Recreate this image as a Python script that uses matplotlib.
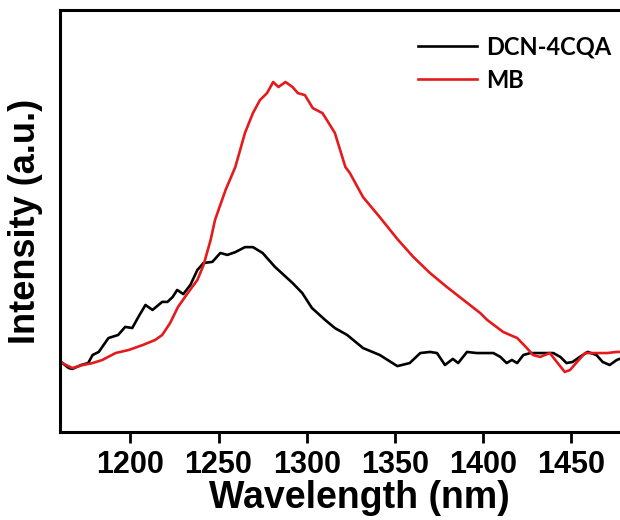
import numpy as np
import matplotlib
matplotlib.use('Agg')
import matplotlib.pyplot as plt

plt.rcParams['font.family'] = ['Liberation Sans', 'DejaVu Sans']

# emission spectra (normalised intensity)
wl_dcn = [1160, 1165, 1167, 1172, 1176, 1178.5, 1182, 1187.5, 1193, 1197, 1201,
          1204.5, 1208.5, 1212.5, 1218, 1221, 1224, 1226.5, 1230, 1234, 1238,
          1241.5, 1246.5, 1251, 1255, 1259.5, 1265, 1269.5, 1275, 1282, 1292,
          1297.5, 1303, 1310.5, 1316, 1323, 1332, 1341.5, 1351.5, 1358.5,
          1364.5, 1370, 1374, 1378.5, 1383, 1386, 1391, 1396.5, 1406, 1410,
          1413.5, 1416.5, 1419.5, 1423, 1427, 1432.5, 1440, 1444, 1447.5,
          1451, 1455, 1459.5, 1464.5, 1468, 1472, 1476, 1478]
int_dcn = [-0.004, -0.029, -0.032, -0.018, -0.011, 0.018, 0.029, 0.079, 0.090,
           0.119, 0.115, 0.155, 0.198, 0.180, 0.209, 0.209, 0.227, 0.252,
           0.237, 0.270, 0.324, 0.349, 0.353, 0.385, 0.378, 0.388, 0.406,
           0.406, 0.385, 0.335, 0.277, 0.241, 0.187, 0.144, 0.115, 0.090,
           0.043, 0.018, -0.022, -0.011, 0.025, 0.029, 0.025, -0.018, 0.004,
           -0.011, 0.029, 0.025, 0.025, 0.011, -0.011, 0.0, -0.011, 0.018,
           0.025, 0.025, 0.025, 0.011, -0.011, -0.007, 0.011, 0.029, 0.018,
           -0.007, -0.018, 0.0, 0.005]

wl_mb = [1160, 1167, 1173, 1178.5, 1184, 1191.5, 1199, 1207, 1214, 1218,
         1222.5, 1227, 1233, 1238, 1241.5, 1245.5, 1248, 1254, 1259.5, 1265,
         1269.5, 1273.5, 1277.5, 1281, 1284, 1288, 1292, 1295, 1299, 1303.5,
         1309, 1311.5, 1316, 1322, 1324.5, 1332, 1341.5, 1351.5, 1360.5,
         1370, 1379.5, 1389, 1398.5, 1402.5, 1411.5, 1419.5, 1425, 1428.5,
         1432.5, 1438, 1442, 1446.5, 1449.5, 1453.5, 1458, 1464.5, 1470.5,
         1476, 1478]
int_mb = [-0.007, -0.029, -0.018, -0.011, 0.0, 0.025, 0.036, 0.054, 0.072,
          0.090, 0.133, 0.191, 0.245, 0.288, 0.342, 0.432, 0.504, 0.612,
          0.694, 0.817, 0.888, 0.935, 0.960, 1.0, 0.982, 1.0, 0.982, 0.960,
          0.953, 0.906, 0.888, 0.863, 0.817, 0.694, 0.673, 0.586, 0.514,
          0.435, 0.371, 0.313, 0.263, 0.216, 0.169, 0.144, 0.101, 0.079,
          0.043, 0.018, 0.011, 0.025, -0.007, -0.043, -0.036, -0.007, 0.025,
          0.025, 0.025, 0.029, 0.029]

xticks = [1200, 1250, 1300, 1350, 1400, 1450]

fig = plt.figure(figsize=(6.2, 5.2), dpi=100)
# axes run past the right edge, the original figure is cropped there
ax = fig.add_axes([60/620, 88/520, 599/620, 422/520])

ax.plot(wl_dcn, int_dcn, color='black', lw=1.9, label='DCN-4CQA')
ax.plot(wl_mb, int_mb, color='#e41a1c', lw=1.9, label='MB')

ax.set_xlim(1160, 1500)
ax.set_ylim(-0.259, 1.259)
ax.set_xticks(xticks)
ax.set_yticks([])
ax.tick_params(axis='x', direction='out', length=8, width=2, pad=5,
               labelsize=22)
for lab in ax.get_xticklabels():
    lab.set_fontweight('bold')
for sp in ax.spines.values():
    sp.set_linewidth(2.2)

ax.set_xlabel('Wavelength (nm)', fontsize=27, fontweight='bold', labelpad=0)
ax.set_ylabel('Intensity (a.u.)', fontsize=26, fontweight='bold', labelpad=12)

leg = ax.legend(loc='upper left', bbox_to_anchor=(418/620, 1 - 35/520),
                bbox_transform=fig.transFigure, frameon=False,
                prop={'family': 'Lato', 'weight': 'bold', 'size': 17},
                handlelength=2.5, handletextpad=0.4, labelspacing=0.45,
                borderpad=0, borderaxespad=0)

fig.savefig('out.png', dpi=100)
